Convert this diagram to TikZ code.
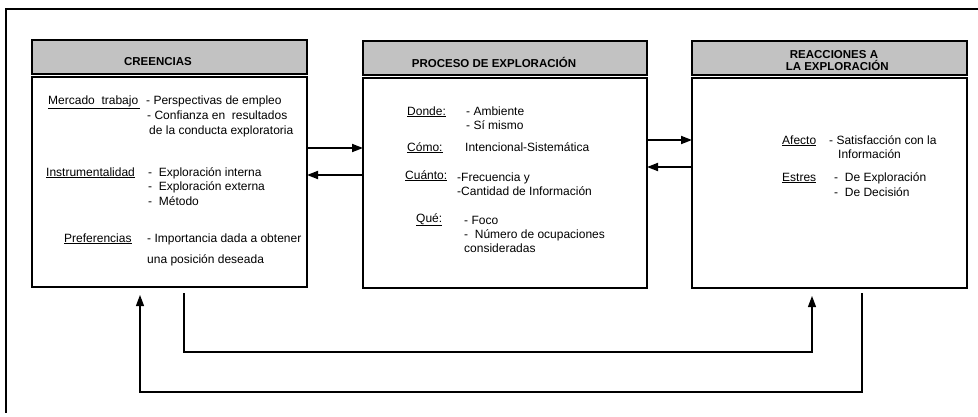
\documentclass[tikz,border=0pt]{standalone}
\usepackage{fontspec}
\setmainfont{Liberation Sans}
\usetikzlibrary{arrows.meta,calc}
\begin{document}
\begin{tikzpicture}[x=1pt,y=-1pt,
  hdr/.style={draw,line width=1.4pt,fill=black!24,minimum width=#1,minimum height=34pt,inner sep=0pt,outer sep=0pt,anchor=north west},
  body/.style={draw,line width=1.4pt,fill=white,minimum width=#1,minimum height=210pt,inner sep=0pt,outer sep=0pt,anchor=north west},
  htxt/.style={font=\fontsize{11.5}{12}\selectfont\bfseries,inner sep=0pt,align=center},
  txt/.style={font=\fontsize{12}{14}\selectfont,inner sep=0pt,anchor=base west},
  arr/.style={line width=1.8pt,-{Triangle[length=11pt,width=8pt]}},
  fbarr/.style={line width=1.1pt,-{Triangle[length=11pt,width=8pt]}},
]
\useasboundingbox (0,0) rectangle (978,416);
% outer frame (top and left sides visible)
\coordinate (fa) at (978,9);
\coordinate (fb0) at (6,9);
\coordinate (fc) at (6,413);
\draw[line width=1.5pt] (fa) -- (fb0) -- (fc);

% boxes
\node[hdr=275pt] (h1) at (32,40) {};
\node[body=275pt] (b1) at (32,77) {};
\node[hdr=284pt] (h2) at (363,41) {};
\node[body=284pt] (b2) at (363,78) {};
\node[hdr=275pt] (h3) at (692,41) {};
\node[body=275pt] (b3) at (692,78) {};

% header texts
\node[htxt] (t1) at (158,62) {CREENCIAS};
\node[htxt] (t2) at (494,62) {PROCESO DE EXPLORACIÓN};
\node[htxt] (t3) at (834,61) {REACCIONES A\\\ \ LA EXPLORACIÓN};

% box 1 texts
\node[txt] (m1) at (48,104) {\underline{Mercado\ \ trabajo\,}};
\node[txt] (m2) at (146,104) {- Perspectivas de empleo};
\node[txt] (m3) at (147,119) {- Confianza en\ \ resultados};
\node[txt] (m4) at (149,134) {de la conducta exploratoria};
\node[txt] (i1) at (46,176) {\underline{Instrumentalidad}};
\node[txt] (i2) at (148,176) {-\ \ Exploración interna};
\node[txt] (i3) at (148,190) {-\ \ Exploración externa};
\node[txt] (i4) at (148,205) {-\ \ Método};
\node[txt] (p1) at (64,242) {\underline{Preferencias}};
\node[txt] (p2) at (147,242) {- Importancia dada a obtener};
\node[txt] (p3) at (147,263) {una posición deseada};

% box 2 texts
\node[txt] (d1) at (407,115) {\underline{Donde:}};
\node[txt] (d2) at (466,115) {- Ambiente};
\node[txt] (d3) at (466,129) {- Sí mismo};
\node[txt] (c1) at (407,151) {\underline{Cómo:}};
\node[txt] (c2) at (465,151) {Intencional-Sistemática};
\node[txt] (q1) at (405,179) {\underline{Cuánto:}};
\node[txt] (q2) at (457,181) {-Frecuencia y};
\node[txt] (q3) at (457,195) {-Cantidad de Información};
\node[txt] (w1) at (416,222) {\underline{Qué:}};
\node[txt] (w2) at (464,224) {- Foco};
\node[txt] (w3) at (464,238) {-\ \ Número de ocupaciones};
\node[txt] (w4) at (464,252) {consideradas};

% box 3 texts
\node[txt] (a1) at (782,144) {\underline{Afecto}};
\node[txt] (a2) at (829,144) {- Satisfacción con la};
\node[txt] (a3) at (838,158) {Información};
\node[txt] (e1) at (782,181) {\underline{Estres}};
\node[txt] (e2) at (834,181) {-\ \ De Exploración};
\node[txt] (e3) at (834,196) {-\ \ De Decisión};

% horizontal arrows
\draw[arr] (b1.east |- 0,148) -- (b2.west |- 0,148);
\draw[arr] (b2.west |- 0,175) -- (b1.east |- 0,175);
\draw[arr] (b2.east |- 0,140) -- (b3.west |- 0,140);
\draw[arr] (b3.west |- 0,167) -- (b2.east |- 0,167);

% feedback loops
\coordinate (l1s) at (184,293);
\coordinate (l1c) at (184,352);
\coordinate (l1d) at (812,352);
\draw[fbarr,shorten >=8pt] (l1s) -- (l1c) -- (l1d) -- (l1d |- b3.south);
\coordinate (l2s) at (862,293);
\coordinate (l2c) at (862,392);
\coordinate (l2d) at (140,392);
\draw[fbarr,shorten >=8pt] (l2s) -- (l2c) -- (l2d) -- (l2d |- b1.south);
\end{tikzpicture}
\end{document}
